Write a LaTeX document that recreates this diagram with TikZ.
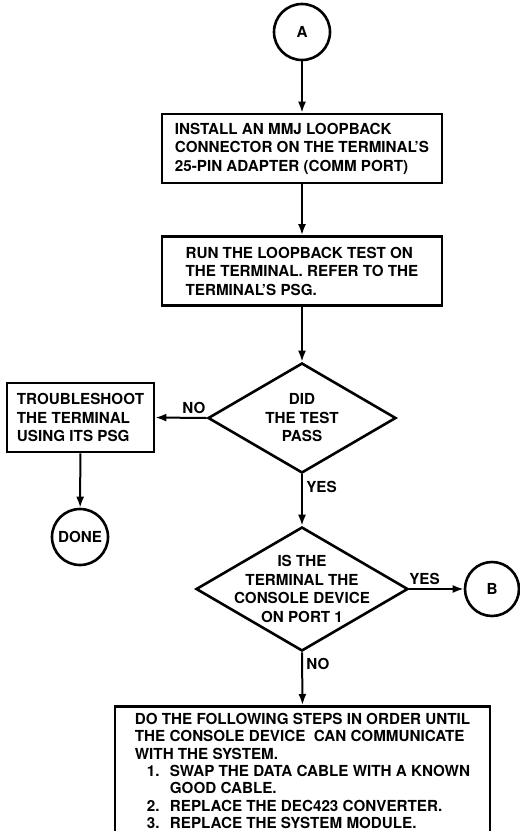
\documentclass[tikz,border=0pt]{standalone}
\usepackage{fontspec}
\setmainfont{TeX Gyre Heros}
\usetikzlibrary{shapes.geometric,arrows.meta}

\tikzset{
    stepbox/.style = {draw, rectangle, line width = 2.6pt, align = left, inner xsep = 12pt, minimum width = 280pt, minimum height = 69pt},
    decision/.style = {draw, diamond, line width = 2.6pt, align = center, inner sep = 0pt},
    connector/.style = {draw, circle, line width = 2.6pt, minimum size = 56pt, inner sep = 0pt},
    flow/.style = {->, line width = 2pt}
}

\begin{document}
\begin{tikzpicture}[x = 1pt, y = -1pt, >={Latex[length = 11pt, width = 8pt]}, font = \fontsize{15.2}{18.5}\selectfont\bfseries]
            % \draw[style = help lines, step = 20] (0,0) grid (520,831);
            \useasboundingbox (0,0) rectangle (520,831);
            \clip (0,0) rectangle (520,831);

            \node[connector] (conA) at (302,32) {A};

            \node[stepbox] (install) at (302,148.5) {INSTALL AN MMJ LOOPBACK\\CONNECTOR ON THE TERMINAL'S\\25-PIN ADAPTER (COMM PORT)};
            \node[stepbox] (runtest) at (302,271) {RUN THE LOOPBACK TEST ON\\THE TERMINAL. REFER TO THE\\TERMINAL'S PSG.};

            \node[decision, shape aspect = 1.7, minimum width = 188pt, minimum height = 110pt] (pass) at (302,418) {DID\\THE TEST\\PASS};
            \node[stepbox, minimum width = 147pt, inner xsep = 6pt] (trouble) at (80.5,417.5) {TROUBLESHOOT\\THE TERMINAL\\USING ITS PSG};
            \node[connector] (done) at (80,537) {DONE};

            \node[decision, shape aspect = 1.7, inner sep = -12pt, minimum width = 212pt, minimum height = 124pt] (port) at (302,589) {IS THE\\TERMINAL THE\\CONSOLE DEVICE\\ON PORT 1};
            \node[connector, minimum size = 54pt] (conB) at (492,589) {B};

            \node[stepbox, anchor = north, minimum width = 375pt, minimum height = 0pt, inner ysep = 7pt, font = \fontsize{15.2}{17.3}\selectfont\bfseries] (steps) at (302.5,705) {DO THE FOLLOWING STEPS IN ORDER UNTIL\\THE CONSOLE DEVICE\ \ CAN COMMUNICATE\\WITH THE SYSTEM.\\
                \hspace*{12pt}\makebox[23pt][l]{1.}SWAP THE DATA CABLE WITH A KNOWN\\
                \hspace*{35pt}GOOD CABLE.\\
                \hspace*{12pt}\makebox[23pt][l]{2.}REPLACE THE DEC423 CONVERTER.\\
                \hspace*{12pt}\makebox[23pt][l]{3.}REPLACE THE SYSTEM MODULE.};

            \draw[flow] (conA) -- (install);
            \draw[flow] (install) -- (runtest);
            \draw[flow] (runtest) -- (pass);
            \draw[flow] (pass.west) -- node[pos = 0.25, above] {NO} (trouble.east);
            \draw[flow] (trouble) -- (done);
            \draw[flow] (pass.south) -- node[pos = 0.24, right] {YES} (port.north);
            \draw[flow] (port.east) -- node[pos = 0.28, above] {YES} (conB.west);
            \draw[flow] (port.south) -- node[pos = 0.22, right] {NO} (steps.north);
        \end{tikzpicture}
\end{document}
